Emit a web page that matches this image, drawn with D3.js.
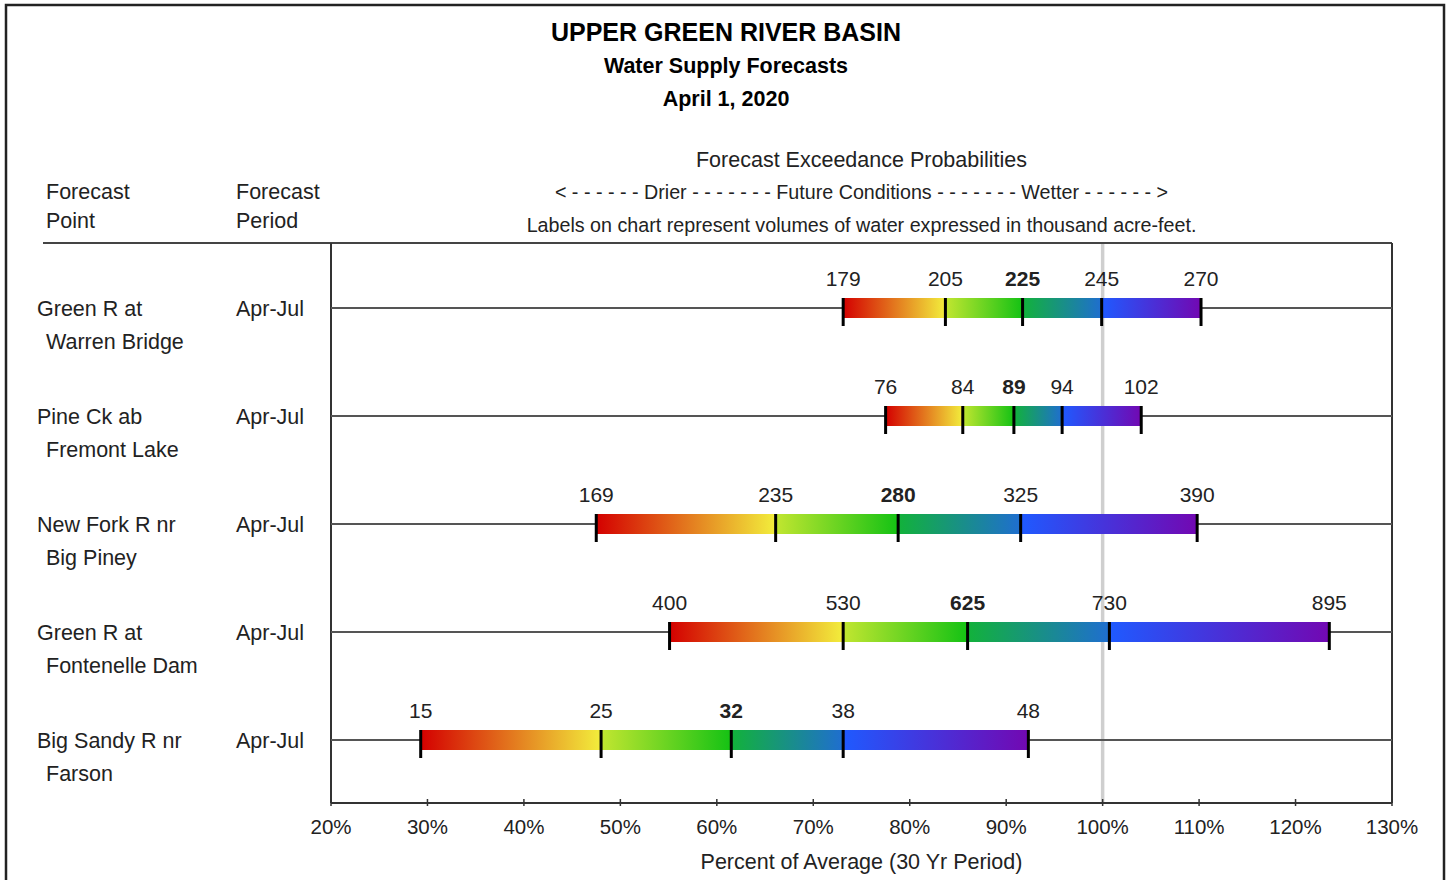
<!DOCTYPE html>
<html>
<head>
<meta charset="utf-8">
<script src="https://cdn.jsdelivr.net/npm/d3@7"></script>
<style>
  html, body { margin: 0; padding: 0; background: #fff; }
  svg { display: block; font-family: Arial, "Liberation Sans", sans-serif; }
</style>
</head>
<body>
<svg id="chart" width="1447" height="880"></svg>
<script>
// Forecast points (two-line names) and forecast period
const pointNames = [
  ["Green R at", "Warren Bridge"],
  ["Pine Ck ab", "Fremont Lake"],
  ["New Fork R nr", "Big Piney"],
  ["Green R at", "Fontenelle Dam"],
  ["Big Sandy R nr", "Farson"]
];
const periods = ["Apr-Jul", "Apr-Jul", "Apr-Jul", "Apr-Jul", "Apr-Jul"];

// Exceedance volumes (kaf): 90%, 70%, 50%, 30%, 10%
const volumes = [
  [179, 205, 225, 245, 270],
  [76, 84, 89, 94, 102],
  [169, 235, 280, 325, 390],
  [400, 530, 625, 730, 895],
  [15, 25, 32, 38, 48]
];

// Same forecasts as percent of the 30-year average
const percents = [
  [73.1, 83.7, 91.7, 99.9, 110.2],
  [77.5, 85.5, 90.8, 95.8, 104.0],
  [47.5, 66.1, 78.8, 91.5, 109.8],
  [55.1, 73.1, 86.0, 100.7, 123.5],
  [29.3, 48.0, 61.5, 73.1, 92.3]
];

const axisTicks = [20, 30, 40, 50, 60, 70, 80, 90, 100, 110, 120, 130];

// Colour ramp for each of the four segments between the exceedance levels
const segmentColors = [
  ["#d40000", "#f2ee3c"],
  ["#c2e630", "#14c214"],
  ["#12b23a", "#1f6ed0"],
  ["#1f5aff", "#7208b2"]
];

const FS = 21.5; // body text size

const svg = d3.select("#chart");
const defs = svg.append("defs");
segmentColors.forEach((c, i) => {
  const g = defs.append("linearGradient").attr("id", "seg" + i)
    .attr("x1", "0%").attr("x2", "100%").attr("y1", "0%").attr("y2", "0%");
  g.append("stop").attr("offset", "0%").attr("stop-color", c[0]);
  g.append("stop").attr("offset", "100%").attr("stop-color", c[1]);
});

const plot = { left: 331, right: 1392, top: 243, bottom: 803 };
const x = d3.scaleLinear().domain([20, 130]).range([plot.left, plot.right]);
const y = d3.scalePoint().domain(d3.range(pointNames.length))
  .range([308, 740]);

// Outer frame
svg.append("rect").attr("x", 6).attr("y", 5).attr("width", 1438).attr("height", 890)
  .attr("fill", "none").attr("stroke", "#222").attr("stroke-width", 2.5);

// Titles
const titles = [
  { t: "UPPER GREEN RIVER BASIN", y: 41, s: 25 },
  { t: "Water Supply Forecasts", y: 73, s: 21.5 },
  { t: "April 1, 2020", y: 106, s: 21.5 }
];
titles.forEach(d => svg.append("text").attr("x", 726).attr("y", d.y)
  .attr("text-anchor", "middle").attr("font-weight", "bold")
  .attr("font-size", d.s).attr("fill", "#000").text(d.t));

// Column headers
const cx = (plot.left + plot.right) / 2;
svg.append("text").attr("x", cx).attr("y", 167).attr("text-anchor", "middle")
  .attr("font-size", FS).attr("fill", "#222").text("Forecast Exceedance Probabilities");
svg.append("text").attr("x", cx).attr("y", 199).attr("text-anchor", "middle")
  .attr("font-size", 19.7).attr("fill", "#222")
  .text("< - - - - - - Drier - - - - - - - Future Conditions - - - - - - - Wetter - - - - - - >");
svg.append("text").attr("x", cx).attr("y", 232).attr("text-anchor", "middle")
  .attr("font-size", 19.7).attr("fill", "#222")
  .text("Labels on chart represent volumes of water expressed in thousand acre-feet.");

[["Forecast", "Point", 46], ["Forecast", "Period", 236]].forEach(h => {
  svg.append("text").attr("x", h[2]).attr("y", 199).attr("font-size", FS)
    .attr("fill", "#222").text(h[0]);
  svg.append("text").attr("x", h[2]).attr("y", 228).attr("font-size", FS)
    .attr("fill", "#222").text(h[1]);
});

// Header rule and plot box
svg.append("line").attr("x1", 43).attr("x2", plot.right).attr("y1", plot.top).attr("y2", plot.top)
  .attr("stroke", "#444").attr("stroke-width", 2);
svg.append("line").attr("x1", plot.left).attr("x2", plot.left).attr("y1", plot.top).attr("y2", plot.bottom)
  .attr("stroke", "#333").attr("stroke-width", 2);
svg.append("line").attr("x1", plot.right).attr("x2", plot.right).attr("y1", plot.top).attr("y2", plot.bottom)
  .attr("stroke", "#333").attr("stroke-width", 2);

// 100% of average reference line
svg.append("line").attr("x1", x(100)).attr("x2", x(100)).attr("y1", plot.top + 1).attr("y2", plot.bottom)
  .attr("stroke", "#cfcfcf").attr("stroke-width", 3.5);

// X axis
const axisG = svg.append("g").attr("transform", `translate(0,${plot.bottom})`);
axisG.append("line").attr("x1", plot.left).attr("x2", plot.right)
  .attr("stroke", "#333").attr("stroke-width", 2);
axisG.selectAll("line.tk").data(axisTicks).join("line").attr("class", "tk")
  .attr("x1", d => x(d)).attr("x2", d => x(d)).attr("y1", -4).attr("y2", 3)
  .attr("stroke", "#333").attr("stroke-width", 1.5);
axisG.selectAll("text").data(axisTicks).join("text")
  .attr("x", d => x(d)).attr("y", 31).attr("text-anchor", "middle")
  .attr("font-size", 20.5).attr("fill", "#222").text(d => d + "%");
svg.append("text").attr("x", cx).attr("y", 869).attr("text-anchor", "middle")
  .attr("font-size", FS).attr("fill", "#222").text("Percent of Average (30 Yr Period)");

// Rows
const rows = svg.selectAll("g.row").data(d3.range(pointNames.length)).join("g")
  .attr("class", "row").attr("transform", i => `translate(0,${y(i)})`);

rows.append("text").attr("x", 37).attr("y", 8).attr("font-size", FS).attr("fill", "#222")
  .text(i => pointNames[i][0]);
rows.append("text").attr("x", 46).attr("y", 41).attr("font-size", FS).attr("fill", "#222")
  .text(i => pointNames[i][1]);
rows.append("text").attr("x", 236).attr("y", 8).attr("font-size", FS).attr("fill", "#222")
  .text(i => periods[i]);

rows.append("line").attr("x1", plot.left).attr("x2", plot.right)
  .attr("stroke", "#555").attr("stroke-width", 2);

rows.each(function (i) {
  const g = d3.select(this);
  const p = percents[i];
  for (let s = 0; s < 4; s++) {
    g.append("rect").attr("x", x(p[s])).attr("y", -10)
      .attr("width", x(p[s + 1]) - x(p[s])).attr("height", 20)
      .attr("fill", `url(#seg${s})`);
  }
  p.forEach((v, k) => {
    g.append("line").attr("x1", x(v)).attr("x2", x(v)).attr("y1", -10).attr("y2", 18)
      .attr("stroke", "#000").attr("stroke-width", 3);
    g.append("text").attr("x", x(v)).attr("y", -22).attr("text-anchor", "middle")
      .attr("font-size", 21).attr("fill", "#222")
      .attr("font-weight", k === 2 ? "bold" : "normal")
      .text(volumes[i][k]);
  });
});
</script>
</body>
</html>
